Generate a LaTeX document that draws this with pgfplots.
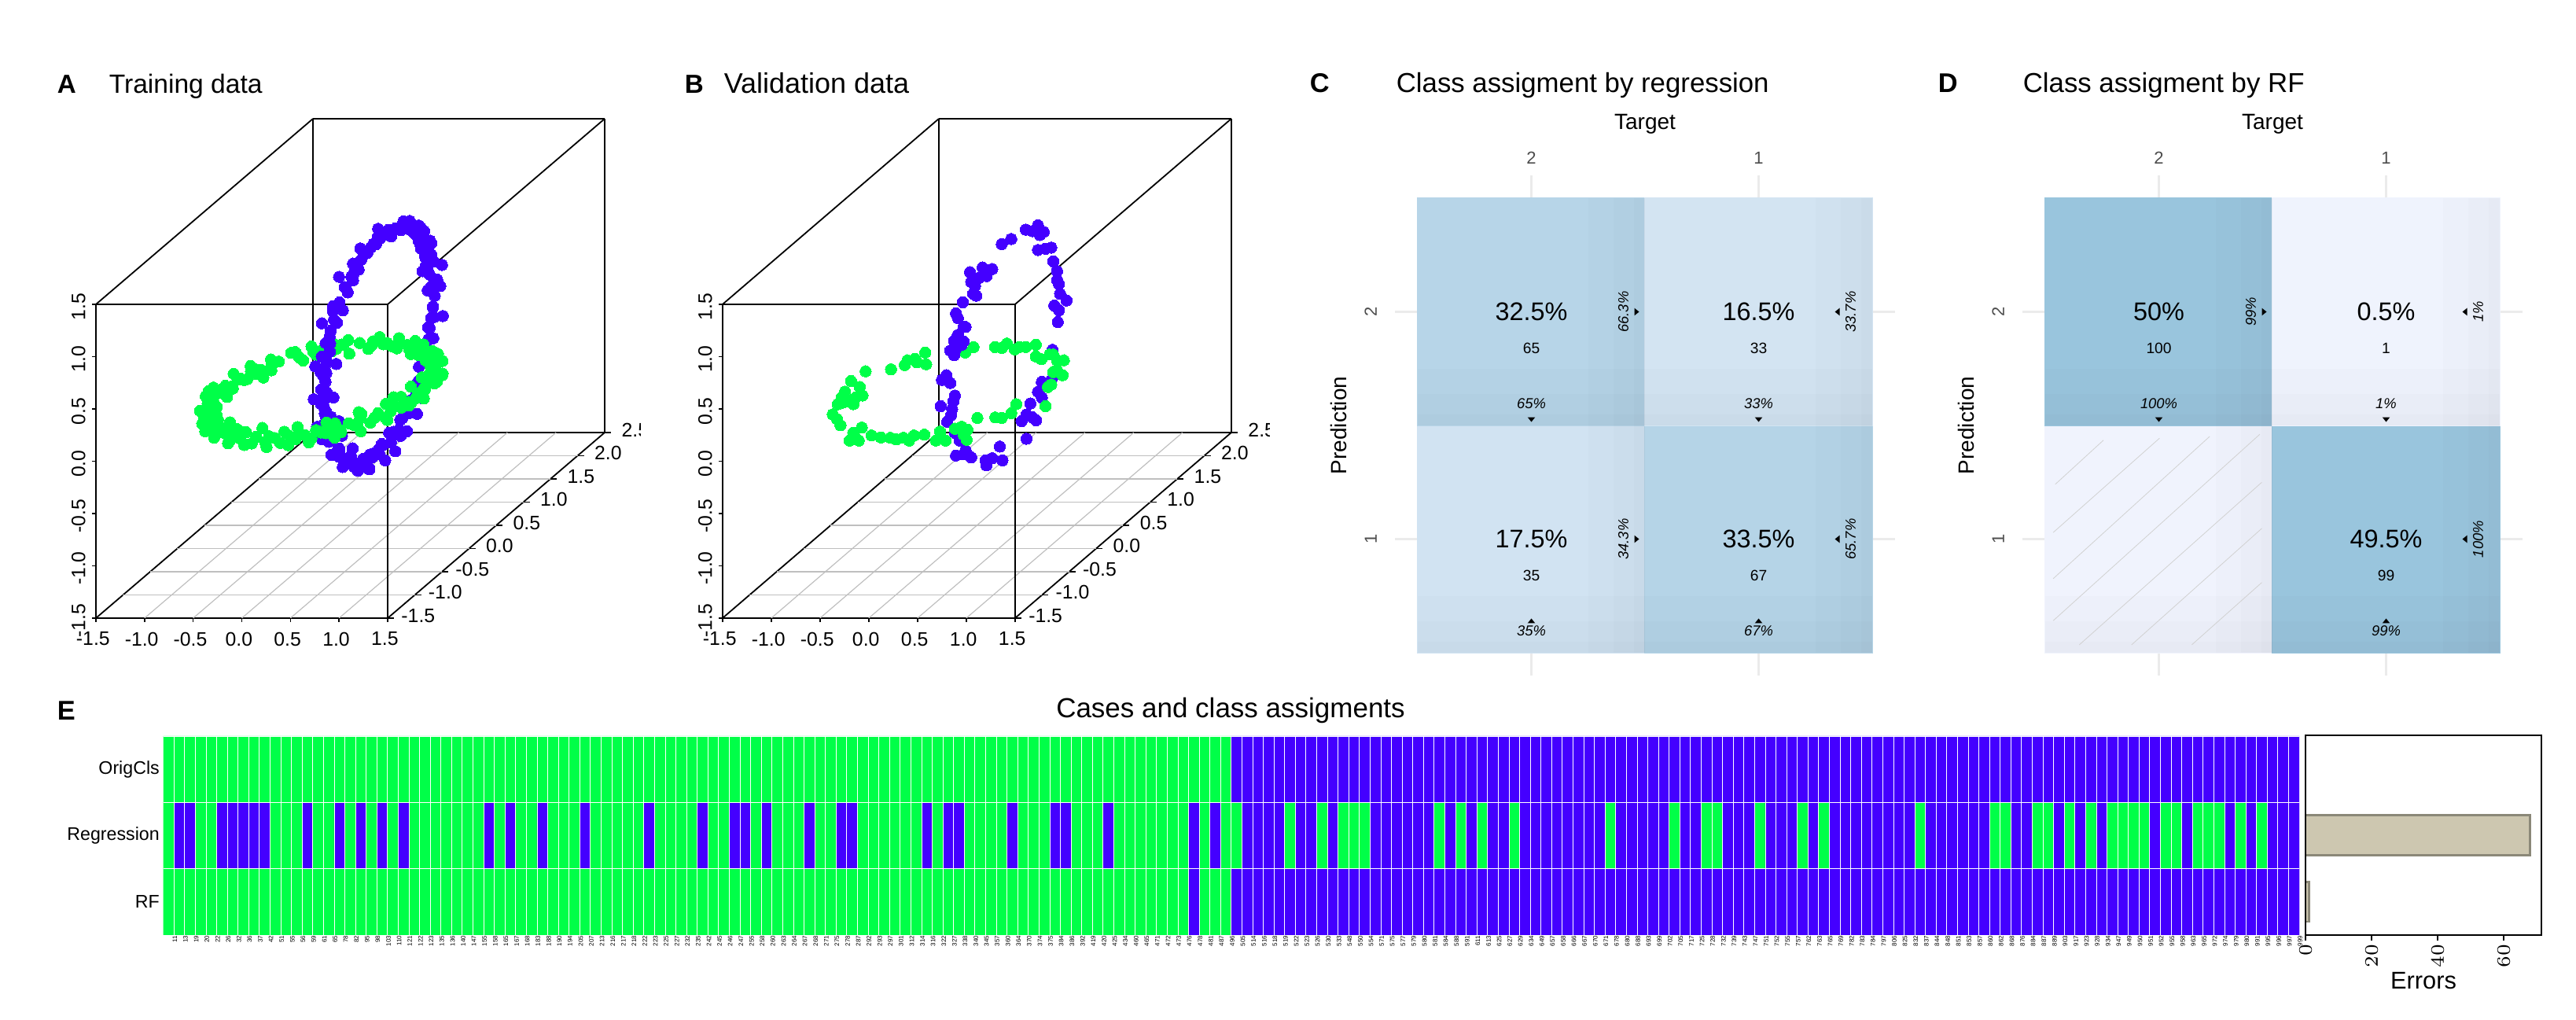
\documentclass[border=0pt]{standalone}
\usepackage{fontspec}
\setmainfont{Liberation Sans}
\usepackage{pgfplots}
\usepackage{pgfplotstable}
\pgfplotsset{compat=1.18}
\definecolor{cgreen}{RGB}{0,255,72}
\definecolor{cblue}{RGB}{68,0,255}
\definecolor{tickgrey}{RGB}{235,235,235}
\definecolor{barfill}{RGB}{205,199,176}
\definecolor{barline}{RGB}{139,136,120}

% 1 reference pixel = 0.25pt
\newcommand\fs[1]{\fontsize{#1}{#1}\selectfont}

\pgfplotsset{
  box3d/.style={
    3d box=complete, clip=false,
    xmin=-1.5, xmax=1.5, ymin=-1.5, ymax=2.5, zmin=-1.5, zmax=1.5,
    xtick={-1.5,-1,-0.5,0,0.5,1,1.5}, xticklabels={-1.5,-1.0,-0.5,0.0,0.5,1.0,1.5},
    ytick={-1.5,-1,-0.5,0,0.5,1,1.5,2,2.5}, yticklabels={-1.5,-1.0,-0.5,0.0,0.5,1.0,1.5,2.0,2.5},
    ztick={-1.5,-1,-0.5,0,0.5,1,1.5}, zticklabels={-1.5,-1.0,-0.5,0.0,0.5,1.0,1.5},
    xtick pos=left, ytick pos=left, ztick pos=left,
    tick align=outside, major tick length=1.2pt,
    tick style={draw=none},
    axis line style={black, line width=0.45pt},
    tick label style={font=\fs{6.2}, inner sep=1pt},
    z tick label style={xshift=-1.2pt, rotate=90, anchor=south},
    y tick label style={anchor=center, xshift=8.5pt, yshift=0.8pt},
    x tick label style={anchor=north, yshift=-2.5pt},
  },
  floorline/.style={color=gray!50, line width=0.3pt, forget plot},
  ticklet/.style={color=black, line width=0.4pt, forget plot},
  pts/.style={only marks, mark=*, mark size=1.8pt, mark options={draw=#1, fill=#1, line width=0pt}, forget plot},
  cm/.style={
    scale only axis, width=144.5pt, height=144.5pt,
    xmin=0.5, xmax=2.5, ymin=0.5, ymax=2.5, enlargelimits=false, clip=false,
    xtick={1,2}, ytick={1,2}, xticklabels={2,1}, yticklabels={1,2},
    xtick pos=both, ytick pos=both, xticklabel pos=top, yticklabel pos=left,
    tick align=outside, major tick length=7.25pt,
    tick style={tickgrey, line width=0.7pt},
    axis line style={draw=none},
    tick label style={font=\fs{5.5}, text=black!70},
    yticklabel style={xshift=-2.25pt, rotate=90, anchor=south},
    xticklabel style={anchor=south},
    xlabel=Target, ylabel=Prediction,
    every axis x label/.style={at={(axis description cs:0.5,1)}, anchor=center, yshift=23.5pt, font=\fs{7}},
    every axis y label/.style={at={(axis description cs:0,0.5)}, anchor=center, xshift=-25.25pt, rotate=90, font=\fs{7}},
    colormap={tiles}{rgb255(0)=(240,243,253) rgb255(1)=(153,197,221)},
    point meta min=0, point meta max=100,
  },
  tile/.style={matrix plot*, mesh/cols=2, point meta=explicit, forget plot},
}

% floor grid and the short ticks of the 3d box
\newcommand\boxfloor{
  \pgfplotsinvokeforeach{-1,-0.5,0,0.5,1}{\addplot3[floorline] coordinates {(##1,-1.5,-1.5) (##1,2.5,-1.5)};}
  \pgfplotsinvokeforeach{-1,-0.5,0,0.5,1,1.5,2}{\addplot3[floorline] coordinates {(-1.5,##1,-1.5) (1.5,##1,-1.5)};}
  \pgfplotsinvokeforeach{-1.5,-1,-0.5,0,0.5,1,1.5}{
    \addplot3[ticklet] coordinates {(##1,-1.5,-1.5) (##1,-1.5,-1.535)};
    \addplot3[ticklet] coordinates {(-1.5,-1.5,##1) (-1.54,-1.5,##1)};}
  \pgfplotsinvokeforeach{-1.5,-1,-0.5,0,0.5,1,1.5,2,2.5}{
    \addplot3[ticklet] coordinates {(1.5,##1,-1.5) (1.565,##1,-1.5)};}
}

% cell texts: x, y, total, count, column share, row share
\newcommand\celltext[6]{
  \node[font=\fs{8.1}] at (axis cs:#1,#2) {#3};
  \node[font=\fs{4.8}, yshift=-11.5pt] at (axis cs:#1,#2) {#4};
  \node[font=\itshape\fs{4.6}, yshift=-29.25pt] at (axis cs:#1,#2) {#5};
  \node[font=\itshape\fs{4.6}, xshift=29.25pt, rotate=90] at (axis cs:#1,#2) {#6};
}
\newcommand\tridown[2]{\fill (axis cs:#1,#2) ++(-1.2pt,-33.5pt) -- ++(2.4pt,0pt) -- ++(-1.2pt,-1.5pt) -- cycle;}
\newcommand\triup[2]{\fill (axis cs:#1,#2) ++(-1.2pt,-26.75pt) -- ++(2.4pt,0pt) -- ++(-1.2pt,1.5pt) -- cycle;}
\newcommand\triright[2]{\fill (axis cs:#1,#2) ++(32.75pt,1.2pt) -- ++(0pt,-2.4pt) -- ++(1.5pt,1.2pt) -- cycle;}
\newcommand\trileft[2]{\fill (axis cs:#1,#2) ++(25.75pt,1.2pt) -- ++(0pt,-2.4pt) -- ++(-1.5pt,1.2pt) -- cycle;}
% soft dark edge on the right and lower side of a tile, #1 #2 = tile centre
\newcommand\edgestrip[3]{
  \fill[black, opacity=0.01] (axis cs:#1+0.5-#3,#2-0.5) rectangle (axis cs:#1+0.5,#2+0.5);
  \fill[black, opacity=0.01] (axis cs:#1-0.5,#2-0.5) rectangle (axis cs:#1+0.5,#2-0.5+#3);
}
\newcommand\tileshade[2]{
  \edgestrip{#1}{#2}{0.05} \edgestrip{#1}{#2}{0.14} \edgestrip{#1}{#2}{0.25}
}

\pgfplotstableread{
case orig reg rf
11 1 1 1
13 1 2 1
19 1 2 1
20 1 1 1
22 1 1 1
26 1 2 1
32 1 2 1
36 1 2 1
37 1 2 1
42 1 2 1
51 1 1 1
55 1 1 1
56 1 1 1
59 1 2 1
61 1 1 1
65 1 1 1
78 1 2 1
82 1 1 1
95 1 2 1
98 1 1 1
103 1 2 1
110 1 1 1
121 1 2 1
122 1 1 1
123 1 1 1
135 1 1 1
136 1 1 1
140 1 1 1
147 1 1 1
155 1 1 1
158 1 2 1
165 1 1 1
167 1 2 1
168 1 1 1
183 1 1 1
188 1 2 1
190 1 1 1
194 1 1 1
205 1 1 1
207 1 2 1
213 1 1 1
216 1 1 1
217 1 1 1
218 1 1 1
222 1 1 1
223 1 2 1
225 1 1 1
227 1 1 1
232 1 1 1
235 1 1 1
242 1 2 1
245 1 1 1
246 1 1 1
247 1 2 1
255 1 2 1
258 1 1 1
260 1 2 1
263 1 1 1
264 1 1 1
267 1 1 1
268 1 2 1
271 1 1 1
275 1 1 1
278 1 2 1
287 1 2 1
292 1 1 1
293 1 1 1
297 1 1 1
301 1 1 1
312 1 1 1
314 1 1 1
316 1 2 1
322 1 1 1
327 1 2 1
338 1 2 1
340 1 1 1
345 1 1 1
357 1 1 1
360 1 1 1
364 1 2 1
370 1 1 1
374 1 1 1
375 1 1 1
384 1 2 1
386 1 2 1
392 1 1 1
419 1 1 1
420 1 1 1
425 1 2 1
434 1 1 1
460 1 1 1
465 1 1 1
471 1 1 1
472 1 1 1
473 1 1 1
476 1 1 1
478 1 2 2
481 1 1 1
487 1 2 1
496 1 1 1
505 2 1 2
514 2 2 2
516 2 2 2
518 2 2 2
519 2 2 2
522 2 1 2
523 2 2 2
526 2 2 2
530 2 1 2
533 2 2 2
548 2 1 2
550 2 1 2
554 2 1 2
571 2 2 2
575 2 2 2
577 2 2 2
579 2 2 2
580 2 2 2
581 2 2 2
584 2 1 2
588 2 2 2
591 2 1 2
611 2 2 2
613 2 1 2
625 2 2 2
627 2 2 2
629 2 1 2
634 2 2 2
649 2 2 2
657 2 2 2
658 2 2 2
666 2 2 2
667 2 2 2
670 2 2 2
671 2 2 2
678 2 1 2
680 2 2 2
688 2 2 2
693 2 2 2
699 2 2 2
702 2 2 2
705 2 1 2
717 2 2 2
725 2 2 2
728 2 1 2
732 2 1 2
739 2 2 2
743 2 2 2
747 2 2 2
751 2 1 2
752 2 2 2
755 2 2 2
757 2 2 2
762 2 1 2
763 2 2 2
765 2 1 2
769 2 2 2
782 2 2 2
783 2 2 2
784 2 2 2
797 2 2 2
806 2 2 2
825 2 2 2
832 2 2 2
837 2 1 2
844 2 2 2
848 2 2 2
851 2 2 2
853 2 2 2
857 2 2 2
860 2 2 2
862 2 1 2
868 2 1 2
876 2 2 2
884 2 2 2
887 2 1 2
889 2 1 2
903 2 2 2
917 2 1 2
923 2 2 2
928 2 1 2
934 2 2 2
947 2 1 2
949 2 1 2
950 2 1 2
951 2 1 2
952 2 2 2
955 2 1 2
958 2 1 2
963 2 2 2
965 2 1 2
972 2 1 2
974 2 1 2
979 2 2 2
980 2 1 2
991 2 2 2
995 2 1 2
996 2 2 2
997 2 2 2
999 2 2 2
}\casedata

\begin{document}
\begin{tikzpicture}
\path[use as bounding box] (0pt,0pt) rectangle (819pt,324pt);

% --- A ---
\node[anchor=base west, inner sep=0pt, font=\bfseries\fs{8.3}] at (18pt,294.3pt) {A};
\node[anchor=base west, inner sep=0pt, font=\fs{8.4}] at (34.5pt,294.3pt) {Training data};
\begin{scope}
\clip (0pt,0pt) rectangle (203.5pt,324pt);
\begin{axis}[box3d, at={(102.75pt,199.5pt)}, anchor=origin,
  x={(30.92pt,0pt)}, y={(17.25pt,14.75pt)}, z={(0pt,33.25pt)}]
\boxfloor
\addplot3[pts=cgreen] coordinates {
(-.17,.98,.03) (-.25,.93,-.05) (-.33,.97,.02) (-.30,.88,.06) (-.42,.92,-.02) (-.47,.86,.04)
(-.50,.90,-.06) (-.55,.82,.03) (-.58,.86,.0) (-.63,.76,-.04) (-.70,.74,.05)
(-.60,.86,.05) (-.45,.96,.05) (-.30,1.0,.05) (-.72,.70,.06) (-.38,.92,.0) (-.54,.84,-.02) (-.66,.74,.0)};
\addplot3[pts=cblue] coordinates {
(.02,2.02,.02) (-.03,1.98,.09) (.04,2.03,.17) (.0,1.96,.25) (-.04,1.96,.33) (.03,1.93,.38)
(.05,1.90,.47) (-.02,1.84,.55) (.03,1.80,.60) (.06,1.74,.70) (-.03,1.72,.76) (.02,1.66,.80)
(.05,1.60,.86) (-.02,1.54,.88) (.03,1.47,.94) (.10,1.50,.92) (.06,1.40,.95) (.0,1.33,.97)
(-.03,1.25,.99) (.04,1.18,.96) (.02,1.10,1.02) (-.04,1.0,.97) (.03,.92,1.0) (-.02,.85,.95)
(.0,.75,.98) (-.05,.68,.92) (.03,.60,.90) (.0,.52,.87) (-.03,.45,.80) (.04,.38,.78)
(.0,.30,.70) (-.04,.25,.66) (.03,.20,.57) (.0,.14,.52) (-.03,.10,.42) (.04,.05,.36)
(.01,.04,.25) (-.04,.02,.18) (.03,-.01,.10) (-.02,.0,.02) (.03,.0,-.06) (-.04,.03,-.13)
(.02,.02,-.20) (.0,.05,-.26) (-.03,.06,-.34) (.04,.12,-.42) (.0,.14,-.50) (-.04,.18,-.56)
(.03,.24,-.65) (.0,.30,-.70) (-.03,.35,-.78) (.05,.42,-.80) (.0,.50,-.88) (-.04,.58,-.90)
(.03,.65,-.96) (.0,.74,-.97) (.05,.82,-.99) (-.02,.90,-1.0) (.03,.98,-1.03) (.0,1.08,-.98)
(.05,1.16,-1.0) (-.02,1.25,-.95) (.03,1.34,-.96) (.0,1.42,-.90) (.05,1.50,-.87) (-.02,1.56,-.80)
(.03,1.64,-.78) (.0,1.70,-.70) (.05,1.76,-.66) (-.03,1.82,-.57) (.03,1.86,-.50) (.0,1.90,-.42)
(.05,1.94,-.35) (-.02,1.97,-.26) (.03,1.99,-.17) (.0,2.02,-.09) (.08,1.85,.60) (-.05,1.92,.30)
(.1,1.45,.96) (.12,1.55,.90) (.1,1.62,.85) (.09,1.7,.78) (.06,2.05,.1) (-.02,2.06,-.1)
(.0,.55,.82) (-.06,.08,.3) (.06,-.05,.2) (.05,.10,-.1) (-.06,.12,-.2) (.07,.9,-.95)
(-.05,1.1,-1.05) (.07,1.3,-1.0)
(.08,1.95,.15) (-.07,2.0,.42) (.1,1.86,.42) (.0,1.98,.55) (.08,1.62,.72) (.12,1.38,1.02)
(.1,1.3,1.05) (.1,1.72,.62) (.14,1.72,.68) (-.06,1.12,1.06) (.06,.9,1.08) (-.02,.72,1.05)
(.0,.55,.98) (-.06,.40,.92) (-.02,.22,.72) (.08,.22,.68) (-.08,.12,.6) (.06,.02,.45)
(-.07,-.02,.25) (.08,.10,.22) (.07,-.06,.02) (-.08,-.03,-.06) (.07,.02,-.25) (-.08,.03,-.35)
(.08,.15,-.35) (-.07,.10,-.50) (.07,.22,-.52) (-.06,.26,-.72) (.08,.4,-.72) (-.05,.45,-.92)
(.05,.55,-1.0) (-.06,.68,-1.02) (.04,.78,-1.08) (.0,.85,-1.12) (.08,1.0,-1.1) (.1,1.15,-1.08)
(.08,1.4,-1.0) (.1,1.55,-.9) (.08,1.7,-.82) (.1,1.85,-.66) (.08,1.92,-.5) (-.05,2.05,-.30)
(.07,2.08,-.2) (-.04,2.1,.05) (.05,2.1,.28)
(.0,1.99,.12) (.0,1.92,.30) (.02,1.85,.46) (.02,1.75,.64) (.04,1.63,.78) (.06,1.50,.88)
(.04,1.36,.94) (.02,1.2,.98) (.0,1.05,1.0) (.0,.88,.99) (.0,.70,.95) (.0,.56,.88)
(.0,.42,.80) (.0,.30,.72) (.0,.20,.60) (.0,.12,.47) (.0,.05,.30) (.0,.01,.14)
(.0,.0,-.04) (.0,.03,-.22) (.0,.08,-.38) (.0,.16,-.54) (.0,.26,-.68) (.0,.40,-.82)
(.0,.55,-.92) (.0,.72,-.98) (.0,.92,-1.0) (.0,1.1,-1.0) (.0,1.3,-.96) (.0,1.46,-.90)
(.0,1.62,-.80) (.0,1.75,-.68) (.0,1.86,-.52) (.0,1.94,-.36) (.0,1.99,-.18)};
\addplot3[pts=cgreen] coordinates {
(-.78,.58,.03) (-.84,.55,-.04) (-.80,.50,.05) (-.90,.47,.0) (-.86,.44,-.06) (-.93,.40,.04)
(-.97,.34,-.03) (-.91,.30,.06) (-1.0,.26,.01) (-1.03,.18,-.05) (-.96,.15,.05) (-1.05,.08,.02)
(-1.0,.02,-.06) (-1.08,-.05,.03) (-.98,-.09,.07) (-1.04,-.16,-.03) (-1.09,-.21,.05) (-.96,-.24,-.04)
(-1.02,-.30,.02) (-.93,-.36,.06) (-.99,-.42,-.05) (-.88,-.46,.03) (-.84,-.53,-.02) (-.90,-.56,.05)
(-.78,-.60,-.06) (-.74,-.66,.03) (-.80,-.69,-.01) (-.68,-.72,.05) (-.61,-.76,-.05) (-.66,-.80,.02)
(-.55,-.83,-.03) (-.50,-.87,.05) (-.45,-.91,-.06) (-.38,-.90,.04) (-.32,-.95,-.03) (-.26,-.99,.05)
(-.20,-.96,-.07) (-.12,-1.02,.02) (-.05,-.98,-.05) (.02,-1.03,.03) (.10,-.97,-.06) (.16,-1.0,.06)
(.25,-.96,-.03) (.30,-.99,.03) (.38,-.90,-.05) (.44,-.92,.04) (.50,-.85,-.02) (.55,-.88,.05)
(.62,-.78,-.04) (.68,-.75,.03) (.73,-.68,-.01) (.77,-.70,.06) (.82,-.60,-.03) (.86,-.53,.03)
(.90,-.47,-.04) (.92,-.38,.05) (.97,-.30,-.02) (.94,-.25,.06) (1.0,-.17,-.03) (1.03,-.10,.03)
(.97,-.04,-.05) (1.04,.03,.05) (.99,.10,-.02) (1.03,.17,.02) (.95,.22,.05) (.98,.29,-.05)
(.92,.36,.03) (.87,.42,-.03) (.90,.47,.05) (.82,.53,.01) (.76,.62,-.04) (.80,.60,.04)
(.70,.68,.03) (.64,.74,-.03) (.60,.80,.05) (.52,.83,-.02) (.46,.89,.04) (.40,.90,-.04)
(.33,.96,.02) (.27,.93,.06) (.20,1.0,-.03) (.12,.96,.04) (.05,1.02,.0) (-.03,.97,.05) (-.10,1.01,-.04)
(-1.12,-.10,.05) (-1.10,-.30,-.05) (-1.14,.02,.03) (-1.06,.25,.06) (-.98,.42,.06) (-.86,.58,.05)
(-.92,-.58,-.05) (-.80,-.74,-.05) (-.62,-.90,-.04) (-.42,-1.0,-.05) (-.22,-1.06,-.04) (.02,-1.08,-.05)
(.22,-1.04,-.05) (.40,-.98,-.05) (.58,-.82,.06) (.75,-.64,.07) (.88,-.42,.07) (.62,-.90,-.04)
(.80,-.74,-.05) (.95,-.52,-.04) (1.05,-.30,.0) (1.08,-.08,-.03) (1.10,.12,.04) (1.06,.30,.04)
(1.0,.40,-.02) (.92,.55,.05) (.80,.68,.06) (.70,.76,.05) (.55,.86,.07) (.40,.98,.05)
(.20,1.04,.05) (.0,1.04,.06) (-.98,-.2,.07) (-.90,-.35,-.07) (-.80,-.55,.07) (-.50,-.82,.07)
(-.1,-.94,.07) (.25,-.92,.07) (.48,-.80,.06) (.70,-.60,.07) (.88,-.28,.07) (.93,-.05,.07) (.93,.15,.07)
(-1.03,-.02,.0) (-1.0,-.35,.0) (-.95,-.50,.0) (-.86,-.62,.0) (-.72,-.72,-.02) (-.58,-.82,.0)
(-.42,-.94,.0) (-.28,-.92,.02) (-.14,-.98,.0) (.06,-1.0,.0) (.20,-.98,.01) (.34,-.94,.0)
(.47,-.88,.0) (.60,-.80,.0) (.72,-.72,.0) (.84,-.56,.0) (.93,-.42,.0) (1.0,-.22,.0)
(1.0,.05,.0) (.96,.30,.0) (.86,.50,.0) (.73,.66,.0) (.56,.80,.0) (.37,.92,.0)
(.16,.98,.0) (-.06,1.0,0) (-.95,.25,.0) (-.90,.38,.0) (-.82,.52,.02) (-1.0,.12,.0)};
\end{axis}
\end{scope}

% --- B ---
\node[anchor=base west, inner sep=0pt, font=\bfseries\fs{8.3}] at (217.5pt,294.3pt) {B};
\node[anchor=base west, inner sep=0pt, font=\fs{9}] at (230pt,294.3pt) {Validation data};
\begin{scope}
\clip (210pt,0pt) rectangle (403.5pt,324pt);
\begin{axis}[box3d, at={(302pt,199.5pt)}, anchor=origin,
  x={(31pt,0pt)}, y={(17.19pt,14.75pt)}, z={(0pt,33.25pt)}]
\boxfloor
\addplot3[pts=cgreen] coordinates {(-.31,.843,0) (-.29,.961,0)};
\addplot3[pts=cblue] coordinates {
(0,1.403,.927) (0,1.523,.859) (0,1.629,.868) (0,1.664,.759) (0,1.735,.757) (0,1.594,.828)
(0,.959,.986) (0,1.135,.956) (0,1.629,.632) (0,1.77,.581) (0,1.876,.545) (0,1.911,.398)
(0,1.982,.273) (0,1.982,.187) (0,2.017,.134) (0,2.038,.031) (0,2.158,-.086) (0,1.932,-.034)
(0,2.017,-.117) (0,1.996,-.22) (0,.374,.976) (0,.606,.918) (0,.783,.825) (0,.677,.804)
(0,.536,.848) (0,.395,.873) (0,.465,.804) (0,.43,.745) (0,.487,.701) (0,.24,.748)
(0,.113,.699) (0,.148,.638) (0,.254,.505) (0,.289,.49) (0,.148,.477) (0,.078,.452)
(0,.254,.367) (0,.007,.39) (0,.113,.362) (0,.078,.314) (0,.219,.352) (0,1.897,-.442)
(0,-.063,.185) (0,-.148,.178) (0,.007,.079) (0,.092,-.078) (0,.063,-.122) (0,-.169,-.064)
(0,.042,-.187) (0,.021,-.234) (0,-.049,-.266) (0,.092,-.434) (0,.183,-.549) (0,.289,-.69)
(0,.113,-.661) (0,.395,-.804) (0,.254,-.712) (0,.663,-.95) (0,.783,-.984) (0,.677,-1.005)
(0,.973,-1.088) (0,.924,-.935) (0,1.417,-1.079) (0,1.326,-.87) (0,1.417,-.847) (0,1.594,-.981)
(0,1.523,-.92) (0,1.488,-.773) (0,1.629,-.724) (0,1.70,-.661) (0,1.70,-.811) (0,1.876,-.721)
(0,1.982,-.712)};
\addplot3[pts=cgreen] coordinates {
(-.93,-.49,0) (-.83,-.59,0) (-.72,-.725,0) (-1.0,-.27,0) (-.97,-.236,0) (-1.075,0,0)
(-1.04,-.126,0) (-.935,-.21,0) (-.84,-.27,0) (-.896,-.126,0) (-.85,-.084,0) (-.98,.10,0)
(-1.14,.228,0) (-1.107,.438,0) (-.87,.48,0) (-.78,.573,0) (-.81,.675,0) (-.75,.708,0)
(-.72,.843,0) (-.57,.59,0) (-.69,.632,0) (-.07,.961,0) (.01,.944,0) (.01,1.037,0)
(.16,.911,0) (.18,.961,0) (.245,.961,0) (.32,1.012,0) (.46,.759,0) (.55,.70,0)
(.58,.80,0) (.615,.80,0) (.795,.675,0) (.724,.675,0) (.826,.42,0) (.96,.354,0)
(.84,.464,0) (.955,.152,0) (.95,.10,0) (1.154,-.312,0) (.83,-.27,0) (.887,-.464,0)
(.845,-.565,0) (.774,-.556,0) (.595,-.565,0) (.633,-.818,0) (.542,-.759,0) (.495,-.80,0)
(.655,-.927,0) (.747,-1.037,0) (.541,-1.054,0) (.375,-.86,0) (.44,-1.054,0) (.252,-.927,0)
(.156,-.944,0) (.166,-1.054,0) (.075,-.995,0) (.02,-1.029,0) (-.058,-.995,0) (-.16,-.987,0)
(-.28,-.944,0) (-.473,-.776,0) (-.35,-1.054,0) (-.50,-.885,0) (-.444,-1.054,0) (-.436,-.97,0)};
\end{axis}
\end{scope}

% --- C ---
\node[anchor=base west, inner sep=0pt, font=\bfseries\fs{8.6}] at (416.25pt,294.6pt) {C};
\node[anchor=base west, inner sep=0pt, font=\fs{8.7}] at (443.75pt,294.6pt) {Class assigment by regression};
\begin{axis}[cm, at={(450.75pt,116.5pt)}, anchor=south west]
\addplot[tile] table[meta=c] {
x y c
1 1 35
2 1 67
1 2 65
2 2 33
};
\tileshade{1}{1} \tileshade{2}{1} \tileshade{1}{2} \tileshade{2}{2}
\celltext{1}{2}{32.5\%}{65}{65\%}{66.3\%}
\celltext{2}{2}{16.5\%}{33}{33\%}{33.7\%}
\celltext{1}{1}{17.5\%}{35}{35\%}{34.3\%}
\celltext{2}{1}{33.5\%}{67}{67\%}{65.7\%}
\tridown{1}{2} \tridown{2}{2} \triup{1}{1} \triup{2}{1}
\triright{1}{2} \triright{1}{1} \trileft{2}{2} \trileft{2}{1}
\end{axis}

% --- D ---
\node[anchor=base west, inner sep=0pt, font=\bfseries\fs{8.6}] at (616pt,294.6pt) {D};
\node[anchor=base west, inner sep=0pt, font=\fs{8.7}] at (643pt,294.6pt) {Class assigment by RF};
\begin{axis}[cm, at={(650.25pt,116.5pt)}, anchor=south west]
\addplot[tile] table[meta=c] {
x y c
1 1 0
2 1 99
1 2 100
2 2 1
};
\tileshade{1}{1} \tileshade{2}{1} \tileshade{1}{2} \tileshade{2}{2}
\pgfplotsset{hatch/.style={color=black!18, line width=0.2pt, forget plot}}
\addplot[hatch] coordinates {(.544,1.241) (.756,1.435)};
\addplot[hatch] coordinates {(.535,1.029) (1.003,1.444)};
\addplot[hatch] coordinates {(.535,.826) (1.224,1.452)};
\addplot[hatch] coordinates {(.535,.641) (1.444,1.461)};
\addplot[hatch] coordinates {(.65,.535) (1.453,1.25)};
\addplot[hatch] coordinates {(.88,.535) (1.453,1.047)};
\addplot[hatch] coordinates {(1.145,.535) (1.453,.809)};
\celltext{1}{2}{50\%}{100}{100\%}{99\%}
\celltext{2}{2}{0.5\%}{1}{1\%}{1\%}
\celltext{2}{1}{49.5\%}{99}{99\%}{100\%}
\tridown{1}{2} \tridown{2}{2} \triup{2}{1}
\triright{1}{2} \trileft{2}{2} \trileft{2}{1}
\end{axis}

% --- E ---
\node[anchor=base west, inner sep=0pt, font=\bfseries\fs{8.6}] at (18pt,95pt) {E};
\node[anchor=base, inner sep=0pt, font=\fs{8.75}] at (391.25pt,95.75pt) {Cases and class assigments};
\begin{axis}[at={(51.9pt,26.75pt)}, anchor=south west, scale only axis,
  width=679.1pt, height=63.25pt, xmin=-0.5, xmax=199.5, ymin=0, ymax=3,
  ybar, bar width=1, bar shift=0pt,
  axis line style={draw=none}, major tick length=0pt,
  xtick={0,...,199}, xticklabels from table={\casedata}{case},
  x tick label style={rotate=90, anchor=east, font=\fs{2}, inner sep=0pt, yshift=-2pt},
  ytick={0.5,1.5,2.5}, yticklabels={RF,Regression,OrigCls},
  y tick label style={font=\fs{5.8}, inner sep=1pt},
  every axis plot/.append style={draw=white, line width=0.2pt},
]
\addplot[fill=cgreen] table[x expr=\coordindex, y expr={\thisrow{orig}==1 ? 3 : nan}] {\casedata};
\addplot[fill=cblue] table[x expr=\coordindex, y expr={\thisrow{orig}==2 ? 3 : nan}] {\casedata};
\addplot[fill=cgreen] table[x expr=\coordindex, y expr={\thisrow{reg}==1 ? 2 : nan}] {\casedata};
\addplot[fill=cblue] table[x expr=\coordindex, y expr={\thisrow{reg}==2 ? 2 : nan}] {\casedata};
\addplot[fill=cgreen] table[x expr=\coordindex, y expr={\thisrow{rf}==1 ? 1 : nan}] {\casedata};
\addplot[fill=cblue] table[x expr=\coordindex, y expr={\thisrow{rf}==2 ? 1 : nan}] {\casedata};
\end{axis}

\begin{axis}[at={(733pt,26.75pt)}, anchor=south west, scale only axis,
  width=75pt, height=63.5pt, xmin=0, xmax=71.4, ymin=0, ymax=3,
  xbar, bar width=0.6, bar shift=0pt, axis on top,
  axis line style={black, line width=0.6pt},
  ytick=\empty, xtick={0,20,40,60}, xtick pos=bottom, tick align=outside, major tick length=1.75pt,
  tick style={black, line width=0.4pt},
  x tick label style={rotate=90, anchor=east, font=\fs{6.5}, inner sep=1pt},
  xlabel=Errors,
  every axis x label/.style={at={(axis description cs:0.5,0)}, anchor=center, yshift=-14.5pt, font=\fs{7.7}},
]
\addplot[fill=barfill, draw=barline, line width=0.7pt] coordinates {(1,0.5) (68,1.5) (0,2.5)};
\end{axis}
\end{tikzpicture}
\end{document}
